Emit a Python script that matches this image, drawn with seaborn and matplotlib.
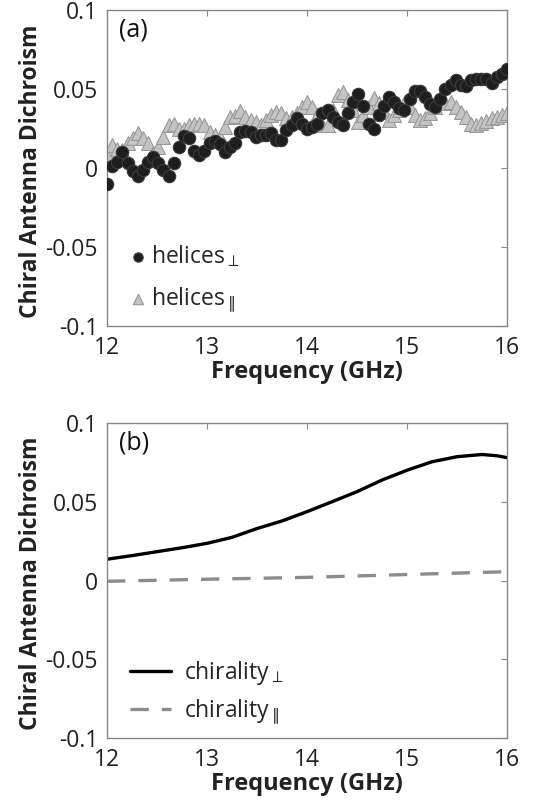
import numpy as np
import pandas as pd
import matplotlib
matplotlib.use("Agg")
import matplotlib.pyplot as plt
import seaborn as sns

# ---- data ----
helices_perp = [-0.010, 0.001, 0.004, 0.010, 0.003, -0.002, -0.005, -0.001, 0.004, 0.007,
                0.003, -0.001, -0.005, 0.003, 0.013, 0.020, 0.019, 0.011, 0.008, 0.011,
                0.016, 0.017, 0.015, 0.010, 0.0135, 0.0156, 0.0226, 0.0234, 0.0226, 0.0198,
                0.0209, 0.0209, 0.0223, 0.018, 0.0177, 0.024, 0.027, 0.0314, 0.028, 0.0245,
                0.0257, 0.028, 0.035, 0.037, 0.0325, 0.029, 0.027, 0.035, 0.042, 0.0468,
                0.0394, 0.028, 0.0247, 0.0335, 0.0394, 0.045, 0.0416, 0.0378, 0.0367, 0.0435,
                0.0489, 0.0489, 0.045, 0.0405, 0.0388, 0.0435, 0.050, 0.0525, 0.0557, 0.0525,
                0.052, 0.0557, 0.0563, 0.0565, 0.0563, 0.0536, 0.0574, 0.0595, 0.0627]
helices_par = [0.0082, 0.0146, 0.0118, 0.0114, 0.0156, 0.0188, 0.022, 0.0188, 0.0156, 0.0093,
               0.0135, 0.0198, 0.027, 0.028, 0.025, 0.025, 0.027, 0.028, 0.028, 0.027,
               0.023, 0.0209, 0.0198, 0.026, 0.032, 0.033, 0.0363, 0.0325, 0.0304, 0.0293,
               0.027, 0.0304, 0.0335, 0.0356, 0.0346, 0.0314, 0.0325, 0.0346, 0.0388, 0.042,
               0.0388, 0.0335, 0.027, 0.027, 0.0367, 0.046, 0.048, 0.043, 0.0367, 0.0293,
               0.0335, 0.0388, 0.044, 0.041, 0.0356, 0.0304, 0.0335, 0.0367, 0.041, 0.0388,
               0.0335, 0.0304, 0.0314, 0.0346, 0.0388, 0.043, 0.041, 0.042, 0.0388, 0.0356,
               0.0325, 0.028, 0.027, 0.0285, 0.030, 0.0315, 0.0325, 0.0335, 0.0346]

chir_freq = [12.0, 12.25, 12.5, 12.75, 13.0, 13.25, 13.5, 13.75, 14.0, 14.25,
             14.5, 14.75, 15.0, 15.25, 15.5, 15.75, 15.9, 16.0]
chir_perp = [0.0135, 0.0158, 0.0183, 0.0208, 0.0236, 0.0274, 0.033, 0.0378, 0.0437, 0.050,
             0.0564, 0.0638, 0.070, 0.0754, 0.0786, 0.080, 0.0792, 0.078]
chir_par_freq = [12.0, 13.0, 14.0, 15.0, 16.0]
chir_par = [-0.0005, 0.0008, 0.002, 0.0038, 0.0056]

x_ticks = [12, 13, 14, 15, 16]
y_ticks = [-0.1, -0.05, 0, 0.05, 0.1]
y_tick_labels = ["-0.1", "-0.05", "0", "0.05", "0.1"]

sns.set_style("white")
plt.rcParams["font.family"] = ["Open Sans", "DejaVu Sans"]
plt.rcParams["mathtext.fontset"] = "dejavusans"

fig = plt.figure(figsize=(5.35, 8.09), dpi=100)
ax1 = fig.add_axes([107/535, 1-326/809, 400/535, 316/809])
ax2 = fig.add_axes([107/535, 1-738/809, 400/535, 315/809])

df_perp = pd.DataFrame({"f": np.linspace(12, 16, len(helices_perp)), "v": helices_perp})
df_par = pd.DataFrame({"f": np.linspace(12, 16, len(helices_par)), "v": helices_par})

sns.scatterplot(data=df_par, x="f", y="v", ax=ax1, marker="^", s=100, color="#c4c4c4",
                edgecolor="#999999", linewidth=0.8, zorder=2, label=r"helices$_{\parallel}$")
sns.scatterplot(data=df_perp, x="f", y="v", ax=ax1, marker="o", s=80, color="#1e1e1e",
                edgecolor="#3a3a3a", linewidth=0.8, zorder=3, label=r"helices$_{\perp}$")

df_c1 = pd.DataFrame({"f": chir_freq, "v": chir_perp})
df_c2 = pd.DataFrame({"f": chir_par_freq, "v": chir_par})
sns.lineplot(data=df_c1, x="f", y="v", ax=ax2, color="black", linewidth=2.4,
             label=r"chirality$_{\perp}$")
sns.lineplot(data=df_c2, x="f", y="v", ax=ax2, color="#8c8c8c", linewidth=2.4,
             linestyle=(0, (5.5, 3.9)), label=r"chirality$_{\parallel}$")

for ax, tag in ((ax1, "(a)"), (ax2, "(b)")):
    ax.set_xlim(12, 16)
    ax.set_ylim(-0.1, 0.1)
    ax.set_xticks(x_ticks)
    ax.set_xticklabels([str(t) for t in x_ticks])
    ax.set_yticks(y_ticks)
    ax.set_yticklabels(y_tick_labels)
    ax.tick_params(direction="in", length=4, width=0.8, color="#888888",
                   top=True, right=True, labelsize=16.5, labelcolor="#222222")
    ax.tick_params(axis="y", pad=6.5)
    ax.tick_params(axis="x", pad=7)
    for sp in ax.spines.values():
        sp.set_color("#888888")
        sp.set_linewidth(1.0)
        sp.set_visible(True)
    ax.set_xlabel("Frequency (GHz)", fontsize=17, fontweight="bold", color="#222222", labelpad=0)
    ax.set_ylabel("Chiral Antenna Dichroism", fontsize=16.5, fontweight="bold", color="#222222")
    ax.yaxis.set_label_coords(-0.16, 0.49)
    ax.text(0.03, 0.975, tag, transform=ax.transAxes, fontsize=18, va="top", ha="left",
            color="#111111")

h, l = ax1.get_legend_handles_labels()
ax1.legend(h[::-1], l[::-1], loc="lower left", bbox_to_anchor=(0.054, 0.035), frameon=False,
           fontsize=16.5, markerscale=0.75, handlelength=0.8, handletextpad=0.17,
           labelspacing=0.68, borderaxespad=0, borderpad=0)
ax2.legend(loc="lower left", bbox_to_anchor=(0.0575, 0.035), frameon=False, fontsize=16.5,
           handlelength=1.78, handletextpad=0.57, labelspacing=0.42, borderaxespad=0,
           borderpad=0)

fig.savefig("out.png", dpi=100)
